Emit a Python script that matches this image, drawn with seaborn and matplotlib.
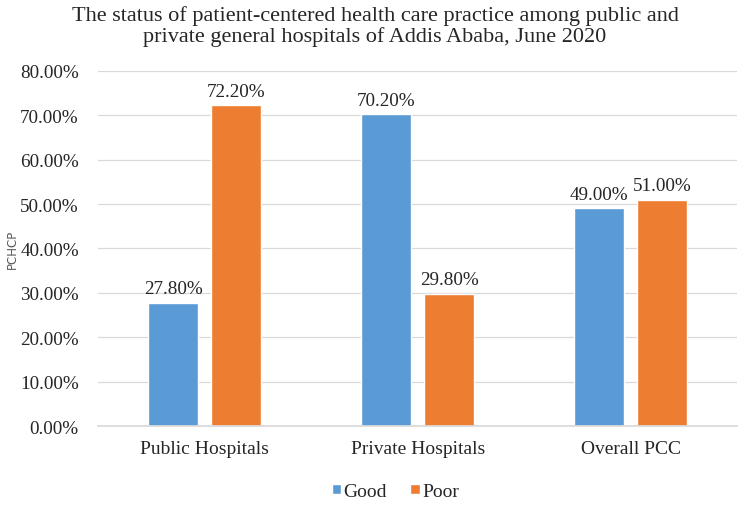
import matplotlib
matplotlib.use("Agg")
import matplotlib.pyplot as plt
import seaborn as sns
import pandas as pd

categories = ["Public Hospitals", "Private Hospitals", "Overall PCC"]
good = [27.8, 70.2, 49.0]
poor = [72.2, 29.8, 51.0]
series_names = ["Good", "Poor"]
y_ticks = [0, 10, 20, 30, 40, 50, 60, 70, 80]
title = "The status of patient-centered health care practice among public and\nprivate general hospitals of Addis Ababa, June 2020"

df = pd.DataFrame({
    "cat": categories * 2,
    "val": good + poor,
    "series": [series_names[0]] * 3 + [series_names[1]] * 3,
})

sns.set_theme(style="white")
plt.rcParams["font.family"] = ["Liberation Serif", "DejaVu Serif"]

fig = plt.figure(figsize=(7.5, 5.06), dpi=100)
ax = fig.add_axes([0.131, 0.156, 0.852, 0.702])

palette = {"Good": "#5B9BD5", "Poor": "#ED7D31"}
sns.barplot(data=df, x="cat", y="val", hue="series", palette=palette,
            width=0.592, gap=0.206, ax=ax, saturation=1, errorbar=None,
            legend=True)

ax.set_ylim(0, 80)
ax.set_yticks(y_ticks)
ax.set_yticklabels([f"{v:.2f}%" for v in y_ticks], fontsize=13.8)
ax.tick_params(axis="x", labelsize=14, length=0, pad=10)
ax.tick_params(axis="y", length=0, pad=14)
ax.yaxis.grid(True, color="#D9D9D9", linewidth=0.9)
ax.set_axisbelow(True)
for s in ["top", "right", "left"]:
    ax.spines[s].set_visible(False)
ax.spines["bottom"].set_color("#D9D9D9")
ax.set_xlabel("")
ax.set_ylabel("PCHCP", fontsize=8.5, family=["DejaVu Sans"], color="#595959", labelpad=1)

for cont in ax.containers:
    ax.bar_label(cont, labels=[f"{v:.2f}%" for v in cont.datavalues],
                 fontsize=13.8, padding=4)

fig.text(0.5, 0.947, title, fontsize=16, ha="center", va="center",
         linespacing=1.06, family=["Liberation Serif"])

leg = ax.get_legend()
leg.remove()
handles, labels = ax.get_legend_handles_labels()
fig.legend(handles, labels, loc="center", bbox_to_anchor=(0.527, 0.026),
           ncol=2, frameon=False,
           prop={"family": ["Liberation Serif"], "size": 14},
           handlelength=0.5, handleheight=0.4, handletextpad=0.1,
           columnspacing=1.2)

fig.savefig("out.png", dpi=100)
